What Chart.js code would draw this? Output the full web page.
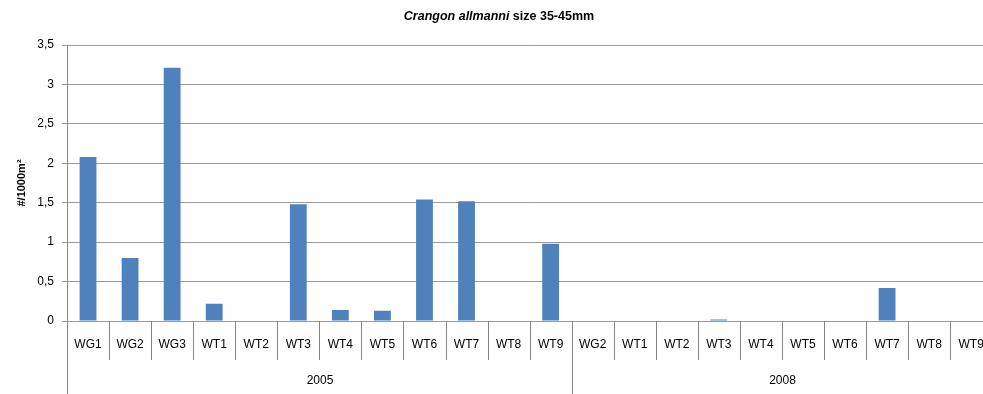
<!DOCTYPE html>
<html>
<head>
<meta charset="utf-8">
<script src="https://cdn.jsdelivr.net/npm/chart.js@4"></script>
<style>
  html, body { margin: 0; padding: 0; background: #fff; overflow: hidden; }
  #wrap { width: 1000px; height: 394px; }
</style>
</head>
<body>
<div id="wrap"><canvas id="chart" width="1000" height="394"></canvas></div>
<script>
// Crangon allmanni 35-45mm, density per station and survey year
const years = ['2005', '2008'];
const stations2005 = ['WG1', 'WG2', 'WG3', 'WT1', 'WT2', 'WT3', 'WT4', 'WT5', 'WT6', 'WT7', 'WT8', 'WT9'];
const stations2008 = ['WG2', 'WT1', 'WT2', 'WT3', 'WT4', 'WT5', 'WT6', 'WT7', 'WT8', 'WT9'];
const density2005 = [2.08, 0.80, 3.21, 0.22, 0, 1.48, 0.14, 0.13, 1.54, 1.52, 0, 0.98];
const density2008 = [0, 0, 0, 0.02, 0, 0, 0, 0.42, 0, 0];
const yTicks = [0, 0.5, 1, 1.5, 2, 2.5, 3, 3.5];

const FONT = "'Liberation Sans', Arial, sans-serif";
const groups = [stations2005, stations2008];
const labels = stations2005.concat(stations2008);
const values = density2005.concat(density2008);

// title with an italic species name
const titlePlugin = {
  id: 'mixedTitle',
  afterDraw(chart) {
    const ctx = chart.ctx;
    const parts = [
      { text: 'Crangon allmanni', font: `italic bold 12.5px ${FONT}` },
      { text: ' size 35-45mm', font: `bold 12.5px ${FONT}` },
    ];
    ctx.save();
    let total = 0;
    parts.forEach(p => { ctx.font = p.font; p.w = ctx.measureText(p.text).width; total += p.w; });
    let x = 499 - total / 2;
    ctx.fillStyle = '#000';
    ctx.textBaseline = 'middle';
    parts.forEach(p => { ctx.font = p.font; ctx.fillText(p.text, x, 17); x += p.w; });
    ctx.restore();
  }
};

// category dividers under the axis plus the year row
const yearAxisPlugin = {
  id: 'yearAxis',
  afterDraw(chart) {
    const ctx = chart.ctx;
    const x = chart.scales.x;
    const bottom = chart.chartArea.bottom;
    const half = (x.getPixelForValue(1) - x.getPixelForValue(0)) / 2;
    const edge = i => Math.round(x.getPixelForValue(i) - half) + 0.5;
    const groupEdges = [0];
    groups.forEach(g => groupEdges.push(groupEdges[groupEdges.length - 1] + g.length));

    ctx.save();
    ctx.strokeStyle = '#868686';
    ctx.lineWidth = 1;
    for (let i = 0; i <= labels.length; i++) {
      const long = groupEdges.includes(i);
      ctx.beginPath();
      ctx.moveTo(edge(i), bottom);
      ctx.lineTo(edge(i), long ? chart.height : bottom + 39);
      ctx.stroke();
    }
    ctx.fillStyle = '#000';
    ctx.font = `12px ${FONT}`;
    ctx.textAlign = 'center';
    ctx.textBaseline = 'middle';
    years.forEach((yr, k) => {
      const cx = (edge(groupEdges[k]) + edge(groupEdges[k + 1])) / 2;
      ctx.fillText(yr, cx, 381);
    });
    ctx.restore();
  }
};

new Chart(document.getElementById('chart'), {
  type: 'bar',
  data: {
    labels: labels,
    datasets: [{
      data: values,
      backgroundColor: '#4F81BD',
      borderWidth: 0,
      barPercentage: 0.4,
      categoryPercentage: 1,
    }],
  },
  options: {
    responsive: false,
    animation: false,
    layout: { padding: { top: 45, right: 6, bottom: 0, left: 0 } },
    plugins: {
      legend: { display: false },
      tooltip: { enabled: false },
    },
    scales: {
      x: {
        afterFit(scale) { scale.height = 73; },
        grid: { display: false, drawTicks: false },
        border: { display: false },
        ticks: {
          color: '#000',
          font: { family: FONT, size: 12 },
          padding: 16,
          maxRotation: 0,
          autoSkip: false,
        },
      },
      y: {
        min: 0,
        max: 3.5,
        afterFit(scale) { scale.width = 67; },
        afterBuildTicks(scale) { scale.ticks = yTicks.map(v => ({ value: v })); },
        grid: { color: '#9a9a9a', tickLength: 5 },
        border: { color: '#868686' },
        ticks: {
          color: '#000',
          font: { family: FONT, size: 12 },
          padding: 8,
          callback: v => String(v).replace('.', ','),
        },
        title: {
          display: true,
          text: '#/1000m²',
          color: '#000',
          font: { family: FONT, size: 11, weight: 'bold' },
          padding: { top: 15, bottom: 0 },
        },
      },
    },
  },
  plugins: [titlePlugin, yearAxisPlugin],
});
</script>
</body>
</html>
